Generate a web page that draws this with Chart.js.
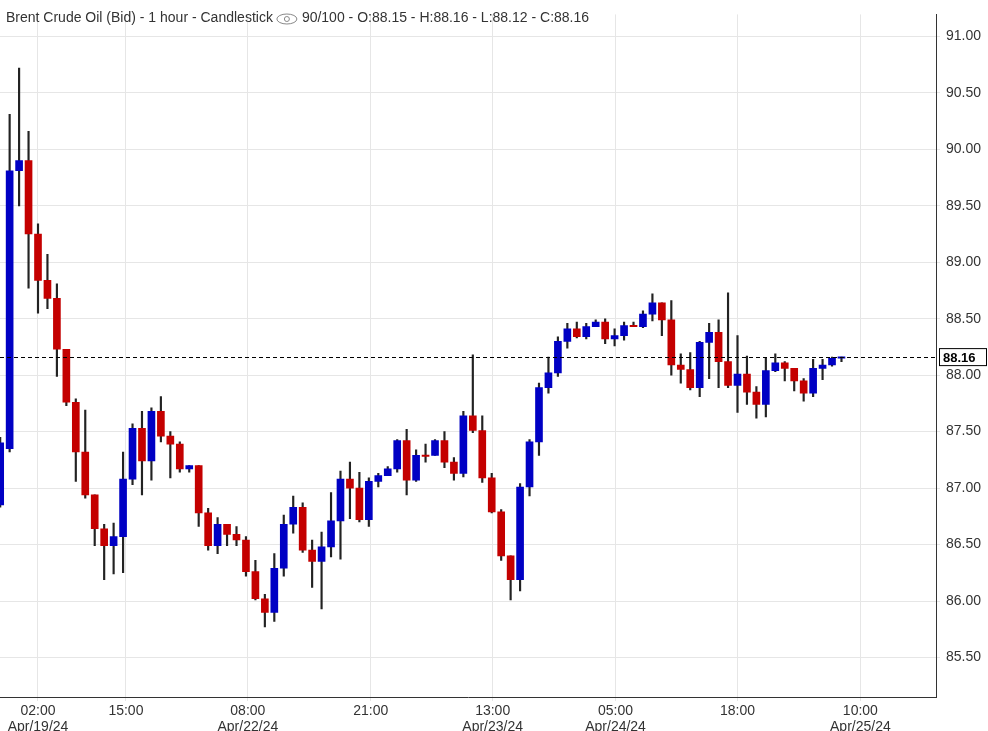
<!DOCTYPE html>
<html>
<head>
<meta charset="utf-8">
<script src="https://cdn.jsdelivr.net/npm/chart.js@4"></script>
<style>
  html, body { margin: 0; padding: 0; background: #fff; }
  #wrap { width: 988px; height: 731px; }
</style>
</head>
<body>
<div id="wrap"><canvas id="myChart" width="988" height="731"></canvas></div>
<script>
// candle data, index 0..89
const opens  = [86.85,87.35,89.81,89.90,89.25,88.84,88.68,88.23,87.76,87.32,86.94,86.64,86.49,86.57,87.08,87.53,87.24,87.68,87.46,87.39,
                87.17,87.20,86.78,86.49,86.68,86.59,86.54,86.26,86.02,85.90,86.29,86.68,86.83,86.45,86.35,86.48,86.71,87.08,87.00,86.72,
                87.06,87.11,87.17,87.42,87.07,87.29,87.29,87.42,87.23,87.13,87.64,87.51,87.09,86.79,86.40,86.19,87.01,87.41,87.89,88.02,
                88.30,88.41,88.34,88.43,88.47,88.32,88.35,88.44,88.43,88.54,88.64,88.49,88.09,88.05,87.89,88.29,88.38,88.12,87.91,88.01,
                87.85,87.74,88.04,88.11,88.06,87.95,87.84,88.06,88.09,88.15];
const highs  = [87.45,90.31,90.72,90.16,89.34,89.07,88.81,88.23,87.79,87.69,86.94,86.68,86.69,87.32,87.57,87.68,87.71,87.81,87.50,87.41,
                87.20,87.20,86.82,86.74,86.68,86.66,86.57,86.36,86.06,86.42,86.76,86.93,86.87,86.54,86.61,86.96,87.15,87.23,87.14,87.09,
                87.13,87.19,87.43,87.52,87.34,87.39,87.43,87.50,87.27,87.68,88.18,87.64,87.13,86.81,86.40,87.04,87.43,87.93,88.16,88.34,
                88.46,88.47,88.46,88.49,88.50,88.41,88.47,88.47,88.57,88.72,88.64,88.66,88.19,88.20,88.30,88.46,88.49,88.73,88.35,88.17,
                87.90,88.15,88.19,88.12,88.06,87.97,88.14,88.14,88.16,88.16];
const lows   = [86.83,87.32,89.50,88.77,88.55,88.59,87.99,87.73,87.06,86.91,86.49,86.19,86.24,86.25,87.03,86.94,87.07,87.41,87.09,87.14,
                87.14,86.66,86.45,86.42,86.49,86.49,86.22,86.01,85.77,85.82,86.22,86.60,86.43,86.12,85.93,86.39,86.37,86.73,86.70,86.66,
                87.01,87.11,87.14,86.94,87.06,87.23,87.29,87.18,87.07,87.10,87.49,87.05,86.78,86.36,86.01,86.09,86.93,87.29,87.84,87.99,
                88.24,88.33,88.32,88.43,88.28,88.26,88.31,88.43,88.42,88.48,88.35,88.00,87.93,87.87,87.81,87.97,87.89,87.89,87.67,87.74,
                87.62,87.63,88.03,87.95,87.86,87.77,87.81,87.96,88.08,88.12];
const closes = [87.40,89.81,89.90,89.25,88.84,88.68,88.23,87.76,87.32,86.94,86.64,86.49,86.57,87.08,87.53,87.24,87.68,87.46,87.39,87.17,
                87.20,86.78,86.49,86.68,86.59,86.54,86.26,86.02,85.90,86.29,86.68,86.83,86.45,86.35,86.48,86.71,87.08,87.00,86.72,87.06,
                87.11,87.17,87.42,87.07,87.29,87.28,87.42,87.23,87.13,87.64,87.51,87.09,86.79,86.40,86.19,87.01,87.41,87.89,88.02,88.30,
                88.41,88.34,88.43,88.47,88.32,88.35,88.44,88.43,88.54,88.64,88.49,88.09,88.05,87.89,88.29,88.38,88.12,87.91,88.01,87.85,
                87.74,88.04,88.11,88.06,87.95,87.84,88.06,88.09,88.15,88.16];

// x axis ticks (candle index position) and labels
const tickPos    = [4, 13.3, 26.2, 39.2, 52.1, 65.1, 78, 91];
const tickLabels = [['02:00','Apr/19/24'], '15:00', ['08:00','Apr/22/24'], '21:00', ['13:00','Apr/23/24'], ['05:00','Apr/24/24'], '18:00', ['10:00','Apr/25/24']];
const priceTicks = [85.5, 86, 86.5, 87, 87.5, 88, 88.5, 89, 89.5, 90, 90.5, 91];
const lastPrice = 88.16;
const titleText = 'Brent Crude Oil (Bid) - 1 hour - Candlestick';
const infoText = '90/100 - O:88.15 - H:88.16 - L:88.12 - C:88.16';

const UP = '#0000c4', DOWN = '#c40000';
const colors = opens.map((o, i) => closes[i] >= o ? UP : DOWN);

const wicks = highs.map((h, i) => ({ x: i, y: [lows[i], h] }));
const bodies = opens.map((o, i) => {
    let lo = Math.min(o, closes[i]), hi = Math.max(o, closes[i]);
    if (hi - lo < 0.012) hi = lo + 0.012;
    return { x: i, y: [lo, hi] };
});

const overlay = {
    id: 'overlay',
    afterDatasetsDraw(chart) {
        const ctx = chart.ctx, area = chart.chartArea, y = chart.scales.y;
        const py = y.getPixelForValue(lastPrice);
        ctx.save();
        ctx.strokeStyle = '#000';
        ctx.lineWidth = 1;
        ctx.setLineDash([4, 3]);
        ctx.beginPath();
        ctx.moveTo(area.left, Math.round(py) + 0.5);
        ctx.lineTo(area.right, Math.round(py) + 0.5);
        ctx.stroke();
        ctx.setLineDash([]);
        // price box
        ctx.fillStyle = '#fff';
        ctx.strokeStyle = '#000';
        ctx.fillRect(area.right + 3, py - 9, 48, 18);
        ctx.strokeRect(area.right + 3.5, py - 8.5, 47, 17);
        ctx.fillStyle = '#000';
        ctx.font = 'bold 13px "Liberation Sans", Arial';
        ctx.textBaseline = 'middle';
        ctx.fillText(lastPrice.toFixed(2), area.right + 7, py + 1);
        // title
        ctx.font = '14px "Liberation Sans", Arial';
        ctx.fillStyle = '#333';
        ctx.textBaseline = 'middle';
        ctx.fillText(titleText, 6, 18);
        const w = ctx.measureText(titleText).width + 6;
        // eye icon
        const ex = w + 14;
        ctx.strokeStyle = '#888';
        ctx.lineWidth = 1;
        ctx.beginPath();
        ctx.ellipse(ex, 19, 10, 5, 0, 0, Math.PI * 2);
        ctx.stroke();
        ctx.beginPath();
        ctx.arc(ex, 19, 2.5, 0, Math.PI * 2);
        ctx.stroke();
        ctx.fillText(infoText, ex + 15, 18);
        ctx.restore();
    }
};

new Chart(document.getElementById('myChart').getContext('2d'), {
    type: 'bar',
    data: {
        datasets: [
            { data: wicks, backgroundColor: '#222', barThickness: 1.5, grouped: false, order: 2 },
            { data: bodies, backgroundColor: colors, barThickness: 7, grouped: false, order: 1 }
        ]
    },
    options: {
        responsive: false,
        animation: false,
        layout: { padding: { left: 0, right: 0, top: 0, bottom: 0 } },
        plugins: { legend: { display: false }, tooltip: { enabled: false } },
        scales: {
            x: {
                type: 'linear',
                offset: false,
                min: -0.02,
                max: 99,
                afterBuildTicks: s => { s.ticks = tickPos.map(v => ({ value: v })); },
                afterFit: s => { s.height = 34; },
                ticks: {
                    autoSkip: false, maxRotation: 0, padding: 2,
                    color: '#333', font: { size: 14, family: '"Liberation Sans", Arial', lineHeight: 1.15 },
                    callback: (v, i) => tickLabels[i]
                },
                grid: { color: '#e6e6e6', tickLength: 4, drawTicks: true, offset: false },
                border: { color: '#333' }
            },
            y: {
                position: 'right',
                min: 85.15,
                max: 91.195,
                afterBuildTicks: s => { s.ticks = priceTicks.map(v => ({ value: v })); },
                afterFit: s => { s.width = 52; },
                ticks: {
                    padding: 6, color: '#333',
                    font: { size: 14, family: '"Liberation Sans", Arial' },
                    callback: v => v.toFixed(2)
                },
                grid: { color: '#e6e6e6', tickLength: 4 },
                border: { color: '#333' }
            }
        }
    },
    plugins: [overlay]
});
</script>
</body>
</html>
